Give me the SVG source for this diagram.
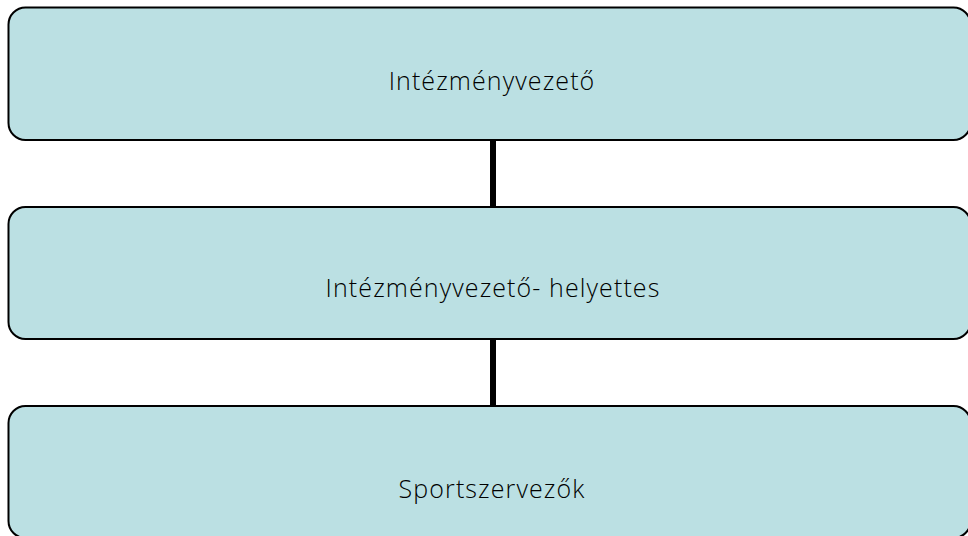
<svg xmlns="http://www.w3.org/2000/svg" width="968" height="536" viewBox="0 0 968 536">
<style>
.box{fill:#bbe0e3;stroke:#000;stroke-width:2}
.lbl{font-family:"Open Sans","Liberation Sans",sans-serif;font-weight:300;font-size:25px;letter-spacing:1.1px;fill:#000;text-anchor:middle;dominant-baseline:central}
.conn{stroke:#000;stroke-width:6;fill:none}
</style>
<rect width="968" height="536" fill="#fff"/>
<g id="connectors">
<line class="conn" x1="493" y1="140" x2="493" y2="207"/>
<line class="conn" x1="493" y1="339" x2="493" y2="406"/>
</g>
<g id="node1">
<rect class="box" x="8.5" y="7.5" width="962" height="132.5" rx="17"/>
<text class="lbl" x="492" y="80">Intézményvezető</text>
</g>
<g id="node2">
<rect class="box" x="8.5" y="207" width="962" height="132" rx="17"/>
<text class="lbl" x="493" y="287">Intézményvezető- helyettes</text>
</g>
<g id="node3">
<rect class="box" x="8.5" y="406" width="962" height="132" rx="17"/>
<text class="lbl" x="492" y="488">Sportszervezők</text>
</g>
</svg>
